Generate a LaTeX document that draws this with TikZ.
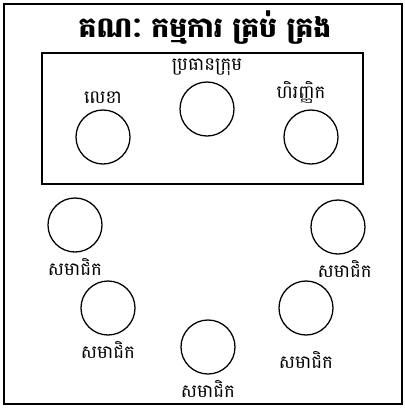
\documentclass[tikz,border=0pt]{standalone}
\usepackage{fontspec}
\newfontfamily\khmerfont[Script=Khmer]{Battambang}
\usetikzlibrary{positioning}
\tikzset{
  seat/.style={circle, draw, line width=1.1pt, minimum size=1.62cm, inner sep=0pt},
  role/.style={font=\khmerfont\fontsize{15.5}{18}\selectfont, inner sep=1pt},
  frame/.style={draw, line width=1.2pt}
}

\begin{document}
\begin{tikzpicture}[x=0.03cm, y=-0.03cm, node distance=1.2mm]
    \useasboundingbox (0,0) rectangle (405,409);
    \draw[frame] (4,4) rectangle (402,404);
    \draw[frame] (42,53) rectangle (363,184);
    \node[font=\khmerfont\bfseries\fontsize{24}{28}\selectfont] (title) at (205,28) {គណៈ កម្មការ គ្រប់ គ្រង};

    % board
    \node[seat] (lekha) at (103,137) {};
    \node[seat] (chief) at (207,109) {};
    \node[seat] (treasurer) at (311,137) {};
    \node[role, above=of lekha] (lekhaL) {លេខា};
    \node[role, above=of chief] (chiefL) {ប្រធានក្រុម};
    \node[role, above=of treasurer, xshift=-3mm] (treasurerL) {ហិរញ្ញិក};

    % members
    \node[seat] (memA) at (75,225) {};
    \node[seat] (memB) at (338,227) {};
    \node[seat] (memC) at (108,308) {};
    \node[seat] (memD) at (306,308) {};
    \node[seat] (memE) at (208,347) {};
    \node[role, below=of memA] (memAL) {សមាជិក};
    \node[role, below=of memB, xshift=2mm] (memBL) {សមាជិក};
    \node[role, below=of memC] (memCL) {សមាជិក};
    \node[role, below=of memD, yshift=-3mm] (memDL) {សមាជិក};
    \node[role, below=of memE] (memEL) {សមាជិក};
\end{tikzpicture}
\end{document}
